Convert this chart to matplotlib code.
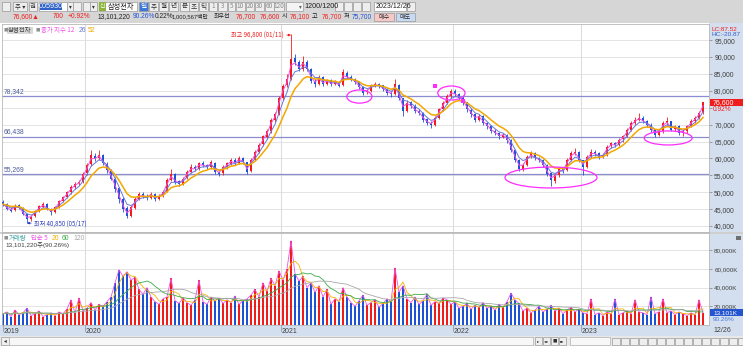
import matplotlib

matplotlib.use("Agg")

import matplotlib.pyplot as plt
import numpy as np
import pandas as pd
from matplotlib.patches import Ellipse, Rectangle

W, H = 743, 346
KR = ["Noto Sans CJK KR", "DejaVu Sans"]
NARROW = ["Liberation Sans Narrow", "Liberation Sans", "DejaVu Sans"]
QUOTE_FONT = ["Liberation Sans Narrow", "Liberation Sans", "Noto Sans CJK KR", "DejaVu Sans"]

STOCK_NAME = "삼성전자"
STOCK_CODE = "005930"
CHART_DATE = "2023/12/26"
SESSIONS = 1200
EMA_SPANS = [12, 26, 52]
VOLUME_MA = [5, 20, 60, 120]

# candles in thousands of won, oldest first
opens = [
    47.0, 46.4, 45.1, 44.6, 46.1, 45.3, 43.6, 42.0, 42.9, 44.4, 45.7,
    46.5, 45.1, 44.0, 45.6, 47.4, 48.6, 50.0, 51.4, 52.6, 53.1, 55.6,
    58.2, 60.8, 60.0, 61.0, 58.4, 56.6, 54.0, 51.2, 48.0, 45.2, 43.0,
    45.4, 48.0, 49.6, 49.0, 48.4, 49.6, 48.1, 49.0, 50.2, 53.6, 55.4,
    53.2, 52.5, 54.2, 56.0, 57.6, 57.0, 58.6, 58.0, 57.4, 58.6, 56.0,
    55.6, 57.4, 58.4, 59.6, 58.6, 60.0, 58.8, 56.2, 59.6, 62.0, 64.2,
    66.4, 68.0, 71.4, 73.2, 78.0, 81.6, 83.6, 89.6, 88.6, 86.4, 88.6,
    86.4, 83.0, 82.0, 84.0, 82.0, 83.2, 82.0, 82.6, 81.6, 85.4, 84.0,
    83.6, 82.6, 81.0, 79.6, 80.0, 81.6, 82.0, 81.6, 80.6, 79.4, 79.0,
    81.8, 77.8, 74.0, 76.6, 75.6, 74.0, 73.4, 71.6, 70.4, 70.0, 72.0,
    74.6, 76.4, 78.6, 80.0, 79.0, 78.0, 76.6, 74.4, 73.0, 71.4, 72.6,
    70.4, 69.6, 68.0, 67.6, 66.4, 67.0, 65.4, 62.6, 59.4, 57.0, 58.0,
    60.6, 61.6, 60.0, 59.6, 58.0, 55.6, 53.4, 55.0, 57.0, 56.6, 59.6,
    61.4, 62.0, 59.4, 57.6, 60.6, 62.0, 61.6, 60.4, 61.0, 63.6, 64.6,
    64.0, 65.6, 66.6, 68.4, 70.6, 71.4, 72.0, 71.0, 70.0, 68.6, 67.0,
    68.0, 70.6, 71.0, 68.6, 69.6, 67.4, 68.0, 69.6, 71.0, 72.0, 73.6,
]
highs = [
    47.6, 46.8, 45.6, 46.5, 46.6, 45.6, 43.9, 43.3, 44.8, 46.2, 47.2,
    46.8, 45.4, 45.9, 47.8, 49.0, 50.4, 52.0, 53.0, 53.6, 56.0, 58.5,
    62.4, 61.5, 62.4, 61.3, 58.8, 57.0, 54.4, 51.6, 48.5, 46.0, 46.2,
    48.6, 50.2, 50.0, 49.4, 50.0, 49.8, 49.5, 50.6, 54.2, 56.8, 55.6,
    53.6, 54.5, 56.5, 58.2, 58.0, 59.0, 59.3, 58.4, 59.5, 58.8, 56.4,
    58.0, 59.0, 60.0, 60.0, 60.6, 60.4, 59.0, 60.0, 62.6, 64.6, 67.0,
    68.6, 72.0, 73.8, 78.6, 82.0, 85.0, 96.8, 91.0, 89.0, 90.2, 89.0,
    86.8, 83.6, 84.6, 84.3, 83.6, 83.5, 83.2, 83.0, 86.4, 85.8, 84.6,
    83.9, 82.8, 81.4, 80.6, 82.0, 82.6, 82.4, 81.8, 80.8, 79.8, 83.4,
    82.0, 78.0, 77.2, 77.0, 76.0, 74.6, 73.6, 72.0, 71.0, 72.6, 75.0,
    77.0, 79.0, 80.6, 80.4, 79.4, 78.4, 76.8, 74.8, 73.4, 73.0, 72.8,
    70.8, 69.8, 68.6, 67.8, 67.6, 67.2, 65.6, 62.8, 59.8, 58.6, 61.0,
    62.2, 61.8, 60.4, 59.8, 58.2, 55.8, 55.6, 57.6, 57.4, 60.0, 62.2,
    63.0, 62.2, 59.6, 61.0, 62.8, 62.4, 61.8, 61.6, 64.0, 65.0, 65.0,
    66.0, 67.0, 69.0, 71.0, 72.2, 73.4, 72.6, 71.4, 70.4, 68.8, 68.6,
    71.0, 72.2, 71.2, 70.0, 69.8, 68.6, 70.0, 71.6, 72.6, 74.0, 76.7,
]
lows = [
    46.0, 44.6, 44.0, 44.3, 45.0, 43.2, 40.85, 41.6, 42.6, 44.1, 45.4,
    44.6, 43.4, 43.8, 45.3, 47.0, 48.2, 49.6, 51.0, 52.0, 52.8, 55.2,
    57.8, 59.2, 59.6, 58.0, 55.8, 53.5, 50.2, 46.8, 44.0, 42.3, 42.6,
    45.0, 47.6, 48.4, 47.8, 48.0, 47.4, 47.8, 48.7, 50.0, 53.2, 52.4,
    51.8, 52.2, 53.8, 55.6, 56.4, 56.6, 57.4, 57.0, 57.0, 55.5, 54.8,
    55.2, 57.0, 58.0, 58.0, 58.3, 58.4, 55.4, 56.0, 59.2, 61.6, 63.8,
    65.8, 67.6, 70.8, 72.8, 77.4, 81.0, 83.2, 87.6, 85.8, 86.0, 85.8,
    82.4, 81.2, 81.6, 81.4, 81.6, 81.4, 81.6, 81.0, 81.4, 83.5, 83.0,
    82.0, 80.4, 78.8, 79.0, 79.6, 81.0, 80.8, 80.0, 78.8, 78.2, 78.8,
    77.4, 72.6, 73.6, 74.8, 73.4, 72.8, 70.8, 69.8, 69.0, 69.6, 71.6,
    74.0, 76.0, 78.0, 78.4, 77.4, 75.8, 73.8, 72.4, 70.8, 71.0, 69.8,
    68.8, 67.4, 66.8, 65.8, 66.0, 64.6, 61.8, 58.8, 56.2, 56.4, 57.8,
    60.0, 59.4, 58.8, 57.4, 54.8, 51.8, 52.8, 54.6, 55.8, 56.2, 59.2,
    61.0, 58.8, 55.0, 57.2, 60.2, 60.8, 59.8, 60.0, 60.8, 63.0, 63.4,
    63.6, 65.0, 66.2, 68.0, 70.0, 71.0, 70.4, 69.4, 67.8, 66.4, 66.6,
    67.6, 70.0, 68.0, 68.0, 66.8, 66.6, 67.6, 69.2, 70.6, 71.6, 73.2,
]
closes = [
    46.5, 45.0, 44.5, 46.0, 45.5, 43.5, 42.0, 42.8, 44.5, 45.8, 46.5,
    45.0, 44.0, 45.5, 47.5, 48.5, 50.0, 51.5, 52.5, 53.0, 55.5, 58.0,
    61.0, 60.0, 61.0, 58.5, 56.5, 54.0, 51.0, 48.0, 45.0, 43.0, 45.5,
    48.0, 49.5, 49.0, 48.5, 49.5, 48.0, 49.0, 50.0, 53.5, 55.5, 53.0,
    52.5, 54.0, 56.0, 57.5, 57.0, 58.5, 58.0, 57.5, 58.8, 56.0, 55.5,
    57.5, 58.5, 59.5, 58.5, 60.0, 59.0, 56.0, 59.5, 62.0, 64.0, 66.5,
    68.0, 71.5, 73.0, 78.0, 81.5, 83.5, 89.5, 88.5, 86.5, 88.5, 86.5,
    83.0, 82.0, 84.0, 82.0, 83.0, 82.0, 82.5, 81.5, 85.5, 84.0, 83.5,
    82.5, 81.0, 79.5, 80.0, 81.5, 82.0, 81.5, 80.5, 79.5, 79.0, 82.0,
    78.0, 74.0, 76.5, 75.5, 74.0, 73.5, 71.5, 70.5, 70.0, 72.0, 74.5,
    76.5, 78.5, 80.0, 79.0, 78.0, 76.5, 74.5, 73.0, 71.5, 72.5, 70.5,
    69.5, 68.0, 67.5, 66.5, 67.0, 65.5, 62.5, 59.5, 57.0, 58.0, 60.5,
    61.5, 60.0, 59.5, 58.0, 55.5, 53.5, 55.0, 57.0, 56.5, 59.5, 61.5,
    62.0, 59.5, 57.5, 60.5, 62.0, 61.5, 60.5, 61.0, 63.5, 64.5, 64.0,
    65.5, 66.5, 68.5, 70.5, 71.5, 72.0, 71.0, 70.0, 68.5, 67.0, 68.0,
    70.5, 71.0, 68.5, 69.5, 67.5, 68.0, 69.5, 71.0, 72.0, 73.5, 76.6,
]
# traded volume, thousands of shares
volumes = [
    12000, 14000, 9000, 16000, 11000, 13000, 18000, 10000, 12000, 15000, 9000,
    11000, 13000, 10000, 14000, 12000, 17000, 27000, 13000, 29000, 15000, 18000,
    24000, 16000, 22000, 20000, 25000, 30000, 45000, 59000, 52000, 57000, 48000,
    51000, 38000, 33000, 40000, 30000, 25000, 22000, 28000, 30000, 50000, 26000,
    23000, 29000, 24000, 21000, 27000, 48000, 25000, 22000, 30000, 26000, 29000,
    23000, 27000, 24000, 31000, 22000, 26000, 28000, 32000, 38000, 30000, 45000,
    36000, 50000, 42000, 58000, 48000, 60000, 90000, 55000, 47000, 52000, 40000,
    45000, 35000, 42000, 30000, 38000, 22000, 28000, 25000, 40000, 30000, 24000,
    20000, 26000, 32000, 21000, 24000, 27000, 19000, 23000, 28000, 25000, 61000,
    35000, 42000, 28000, 24000, 30000, 22000, 26000, 33000, 21000, 25000, 23000,
    29000, 27000, 22000, 25000, 18000, 20000, 23000, 17000, 21000, 19000, 24000,
    18000, 20000, 16000, 22000, 19000, 25000, 34000, 27000, 23000, 15000, 18000,
    13000, 16000, 20000, 14000, 17000, 21000, 15000, 18000, 12000, 16000, 19000,
    14000, 17000, 13000, 12000, 28000, 11000, 13000, 10000, 14000, 12000, 28000,
    11000, 13000, 15000, 12000, 27000, 14000, 13000, 11000, 30000, 12000, 14000,
    28000, 13000, 15000, 11000, 14000, 12000, 10000, 13000, 11000, 27000, 13101.22,
]

YEAR_LABELS = ["2019", "2020", "2021", "2022", "2023"]
YEAR_FIRST_BAR = [0, 21, 70, 113, 145]
LAST_DATE = "12/26"

SUPPORT_LEVELS = [78342, 66438, 55269]
HIGH_DATE = "01/11"
LOW_DATE = "05/17"

# today's quote strip
PREV_CHANGE = 700
CHANGE_PCT = 0.92
VOLUME_RATIO = 90.26
TURNOVER_PCT = 0.22
TRADE_AMOUNT = 1000567
BEST_ASK, BEST_BID = 76700, 76600
DAY_OPEN, DAY_HIGH, DAY_LOW = 76100, 76700, 75700
LC, HC = 87.52, -20.87

RED = "#f01c1c"
BLUE = "#1d52d6"
UI_GRAY = "#d6d6d6"
PANEL_BLUE = "#d3dfee"
GRID = "#e4e4e4"
SUPPORT = "#8c8cd0"
EMA_COLORS = ["#f050e8", "#6a78d8", "#f2a800"]
VMA_COLORS = ["#f050e8", "#f2b400", "#3aaa48", "#a8a8a8"]
MAGENTA = "#ff2cff"

# (bar index, price, width in bars, height in won) of the hand-drawn circles
MARK_CIRCLES = [
    (89.1, 78300, 6.3, 3900),
    (112.1, 79350, 6.8, 4150),
    (137.0, 54350, 23.0, 6200),
    (166.3, 66050, 12.0, 4150),
]
MARK_SQUARES = [(108.0, 81400), (115.1, 77000)]


def fig_rect(fig, x0, y0, x1, y1, fc, ec="none", lw=0.6, z=-1):
    fig.add_artist(
        Rectangle(
            (x0 / W, 1 - y1 / H),
            (x1 - x0) / W,
            (y1 - y0) / H,
            transform=fig.transFigure,
            facecolor=fc,
            edgecolor=ec,
            linewidth=lw,
            zorder=z,
        )
    )


def fig_text(fig, x, y, s, size=5.0, color="#202020", ha="left", family=KR, **kw):
    fig.text(x / W, 1 - y / H, s, fontsize=size, color=color, ha=ha,
             va="center", family=family, zorder=6, **kw)


def button(fig, x0, x1, y0, y1, text="", fc="#eeeeee", color="#303030", size=5.0):
    fig_rect(fig, x0, y0, x1, y1, fc, ec="#9a9a9a", lw=0.5, z=2)
    if text:
        fig_text(fig, (x0 + x1) / 2, (y0 + y1) / 2, text, size=size, color=color, ha="center")


def draw_toolbar(fig):
    # first row: code, name, period buttons, count and date
    button(fig, 2, 10, 2, 11, "")
    button(fig, 13, 27, 2, 11, "주 ▾", size=4.6)
    button(fig, 29, 37, 2, 11, "권", size=4.6)
    fig_rect(fig, 39, 2, 67, 11, "white", ec="#9a9a9a", lw=0.5, z=2)
    fig_rect(fig, 40, 3.5, 62, 9.5, "#2f63c8", z=3)
    fig_text(fig, 51, 6.5, STOCK_CODE, size=5.2, color="white", ha="center", family=NARROW)
    button(fig, 67, 73, 2, 11, "▾", size=4)
    button(fig, 73, 81, 2, 11, "")
    button(fig, 83, 90, 2, 11, "")
    button(fig, 90, 97, 2, 11, "▾", size=4)
    fig_rect(fig, 99, 2, 137, 11, "white", ec="#9a9a9a", lw=0.5, z=2)
    fig_rect(fig, 99, 2, 106, 11, "#8cb43c", z=3)
    fig_text(fig, 102.5, 6.5, "신", size=4.4, color="white", ha="center")
    fig_text(fig, 107.5, 6.5, STOCK_NAME, size=5.2)
    button(fig, 139, 148, 2, 11, "일", fc="#3d78d8", color="white", size=4.8)
    for x0, t in zip([149, 159, 169, 180, 189, 199], ["주", "월", "년", "분", "초", "틱"]):
        button(fig, x0, x0 + 9, 2, 11, t, size=4.8)
    for x0, x1, t in [(209, 217, "1"), (218, 227, "3"), (228, 235, "5"), (236, 245, "10"),
                      (246, 254, "20"), (255, 264, "30"), (265, 274, "60"), (274, 284, "120")]:
        button(fig, x0, x1, 2, 11, t, color="#8a8a8a", size=4.6)
    fig_rect(fig, 286, 2, 303, 11, "#f4f4f4", ec="#9a9a9a", lw=0.5, z=2)
    fig_text(fig, 300, 6.5, "▾", size=4, color="#606060", ha="center")
    fig_text(fig, 304.5, 6.5, f"{SESSIONS}/{SESSIONS}", size=5.2, family=NARROW)
    for x0 in [335, 344, 353, 362]:
        button(fig, x0, x0 + 8, 2, 11, "")
    fig_rect(fig, 374, 2, 406, 11, "white", ec="#9a9a9a", lw=0.5, z=2)
    fig_text(fig, 375.5, 6.5, CHART_DATE, size=5.0, family=NARROW)
    button(fig, 407, 415, 2, 11, "")

    # second row: today's quote
    last = closes[-1] * 1000
    y = 16.5
    qf = QUOTE_FONT
    qs = 4.8
    fig_text(fig, 13, y, f"{last:,.0f}▲", size=qs, color=RED, family=qf)
    fig_text(fig, 53, y, f"{PREV_CHANGE}", size=qs, color=RED, family=qf)
    fig_text(fig, 68, y, f"+{CHANGE_PCT:.2f}%", size=qs, color=RED, family=qf)
    fig_text(fig, 98, y, f"{volumes[-1] * 1000:,.0f}", size=qs, family=qf)
    fig_text(fig, 133, y, f"{VOLUME_RATIO:.2f}%", size=qs, color=BLUE, family=qf)
    fig_text(fig, 155, y, f"{TURNOVER_PCT:.2f}%", size=qs, family=qf)
    fig_text(fig, 172, y, f"{TRADE_AMOUNT:,}백만", size=4.2, family=qf)
    fig_text(fig, 214, y, "최우선", size=4.3)
    fig_text(fig, 236, y, f"{BEST_ASK:,}", size=qs, color=RED, family=qf)
    fig_text(fig, 260, y, f"{BEST_BID:,}", size=qs, color=RED, family=qf)
    fig_text(fig, 282, y, "시", size=4.5)
    fig_text(fig, 290, y, f"{DAY_OPEN:,}", size=qs, color=RED, family=qf)
    fig_text(fig, 312, y, "고", size=4.5)
    fig_text(fig, 322, y, f"{DAY_HIGH:,}", size=qs, color=RED, family=qf)
    fig_text(fig, 344, y, "저", size=4.5)
    fig_text(fig, 352, y, f"{DAY_LOW:,}", size=qs, color=BLUE, family=qf)
    button(fig, 374, 394, 12.5, 20.5, "매수", fc="#f6c8c8", size=4.4)
    button(fig, 396, 415, 12.5, 20.5, "매도", fc="#c6daf4", size=4.4)


def draw_bottom_bar(fig):
    fig_rect(fig, 0, 336, W, H, "#e8e8e8", z=-1)
    button(fig, 1, 9, 337, 345, "◂", size=4)
    fig_rect(fig, 9, 337, 533, 345, "#f7f7f7", ec="#b0b0b0", lw=0.5, z=2)
    for x0, t in zip([535, 543, 551, 559], ["▸", "◂◂", "■", "▸▸"]):
        button(fig, x0, x0 + 7, 337, 345, t, size=3.2)
    fig_rect(fig, 570, 337, 610, 345, "#f7f7f7", ec="#b0b0b0", lw=0.5, z=2)
    for x0 in range(612, 743, 9):
        button(fig, x0, x0 + 7.5, 337.5, 344.5, "")


def candle_colors():
    return [RED if c >= o else BLUE for o, c in zip(opens, closes)]


def draw_price_pane(fig):
    ax = fig.add_axes([2 / W, 1 - 232 / H, 707 / W, 208 / H])
    n = len(closes)
    idx = np.arange(n)
    o = np.array(opens) * 1000
    h = np.array(highs) * 1000
    lo = np.array(lows) * 1000
    c = np.array(closes) * 1000
    colors = candle_colors()

    ax.set_xlim(-0.25, n + 0.5)
    ax.set_ylim(38225, 99772)
    ax.set_facecolor("white")

    ticks = np.arange(40000, 96000, 5000)
    for t in ticks:
        ax.axhline(t, color=GRID, lw=0.7, zorder=0)
    for b in YEAR_FIRST_BAR[1:]:
        ax.axvline(b - 0.5, color="#dddddd", lw=0.8, zorder=0)
    for level in SUPPORT_LEVELS:
        ax.axhline(level, color=SUPPORT, lw=0.9, zorder=1)
        ax.text(0.2, level + 400, f"{level:,}", fontsize=4.9, color="#4a5a9a",
                family=NARROW, va="bottom")

    ax.vlines(idx, lo, h, colors=colors, lw=0.6, zorder=2)
    body = np.maximum(np.abs(c - o), 120)
    ax.bar(idx, body, width=0.62, bottom=np.minimum(o, c), color=colors,
           linewidth=0, zorder=3)

    # each candle covers several sessions, so the session spans are rescaled
    per_bar = SESSIONS / n
    close_series = pd.Series(c)
    for span, col, lw in zip(EMA_SPANS, EMA_COLORS, [0.7, 0.7, 1.1]):
        ema = close_series.ewm(span=max(span / per_bar, 1.0), adjust=False).mean()
        ax.plot(idx, ema, color=col, lw=lw, zorder=4)

    for (xc, yc, wd, ht) in MARK_CIRCLES:
        ax.add_patch(Ellipse((xc, yc), wd, ht, fill=False, edgecolor=MAGENTA, lw=0.9, zorder=5))
    for (xs, ys) in MARK_SQUARES:
        ax.plot(xs, ys, marker="s", ms=2.2, color=MAGENTA, mew=0, zorder=5)

    i_hi = int(np.argmax(h))
    i_lo = int(np.argmin(lo))
    ax.annotate(f"최고 {h[i_hi]:,.0f} ({HIGH_DATE})", xy=(i_hi, h[i_hi] - 300),
                xytext=(-5, 0), textcoords="offset points", ha="right", va="center",
                fontsize=4.4, color=RED, family=KR,
                arrowprops=dict(arrowstyle="-|>", color=RED, lw=0.6, mutation_scale=3,
                                shrinkA=0, shrinkB=0), zorder=6)
    ax.annotate(f"최저 {lo[i_lo]:,.0f} ({LOW_DATE})", xy=(i_lo, lo[i_lo]),
                xytext=(5, 0), textcoords="offset points", ha="left", va="center",
                fontsize=4.4, color="#2a3cc0", family=KR,
                arrowprops=dict(arrowstyle="-|>", color="#2a3cc0", lw=0.6, mutation_scale=3,
                                shrinkA=0, shrinkB=0), zorder=6)

    # the last-price tag covers the nearest scale label
    ax.yaxis.tick_right()
    tick_labels = ["" if abs(t - c[-1]) < 2500 else f"{t:,}" for t in ticks]
    ax.set_yticks(ticks, labels=tick_labels, fontsize=4.9, family=NARROW, color="#404040")
    ax.tick_params(axis="y", length=2.5, width=0.5, color="#808080", pad=1.2)
    ax.set_xticks([])
    for side in ax.spines.values():
        side.set_color("#b8b8b8")
        side.set_linewidth(0.6)

    # legend row
    fig_text(fig, 4, 30, "■", size=3.2, color="#909090")
    fig_rect(fig, 7, 26.5, 33, 33.5, "#d8d8d8", z=2)
    fig_text(fig, 8, 30, STOCK_NAME, size=4.6, color="#404040")
    fig_text(fig, 36, 30, "■", size=3.2, color="#909090")
    fig_text(fig, 41, 30, f"종가 지수 {EMA_SPANS[0]}", size=4.6, color=EMA_COLORS[0])
    fig_text(fig, 79, 30, f"{EMA_SPANS[1]}", size=4.9, color=EMA_COLORS[1], family=NARROW)
    fig_text(fig, 88, 30, f"{EMA_SPANS[2]}", size=4.9, color=EMA_COLORS[2], family=NARROW)

    # last price tag on the axis panel
    tag_y = 226 - (c[-1] - 40000) / 5000 * 16.9
    fig_rect(fig, 710, tag_y - 3.6, 743, tag_y + 3.6, "#ee1c1c", z=5)
    fig_text(fig, 713, tag_y, f"{c[-1]:,.0f}", size=5.0, color="white", family=NARROW)
    fig_text(fig, 713, tag_y + 7, f"{CHANGE_PCT:.2f}%", size=4.8, color=RED, family=NARROW)
    fig_text(fig, 712, 29.5, f"LC:{LC:.2f}", size=4.6, color=RED, family=NARROW)
    fig_text(fig, 712, 35, f"HC:{HC:.2f}", size=4.6, color="#3060d0", family=NARROW)
    return ax


def draw_volume_pane(fig):
    ax = fig.add_axes([2 / W, 1 - 325 / H, 707 / W, 92 / H])
    n = len(volumes)
    idx = np.arange(n)
    v = np.array(volumes)
    ax.set_xlim(-0.25, n + 0.5)
    ax.set_ylim(0, 98400)
    ax.set_facecolor("white")

    ticks = [20000, 40000, 60000, 80000]
    for t in ticks:
        ax.axhline(t, color=GRID, lw=0.7, zorder=0)
    for b in YEAR_FIRST_BAR[1:]:
        ax.axvline(b - 0.5, color="#dddddd", lw=0.8, zorder=0)

    ax.bar(idx, v, width=0.7, color=candle_colors(), linewidth=0, zorder=2)

    per_bar = SESSIONS / n
    vs = pd.Series(v)
    for window, col in zip(VOLUME_MA, VMA_COLORS):
        w = max(1, int(round(window / per_bar)))
        ax.plot(idx, vs.rolling(w, min_periods=1).mean(), color=col, lw=0.6, zorder=3)

    ax.yaxis.tick_right()
    ax.set_yticks(ticks, labels=[f"{t:,}K" for t in ticks], fontsize=4.5, family=NARROW,
                  color="#404040")
    ax.tick_params(axis="y", length=2.5, width=0.5, color="#808080", pad=1.2)
    ax.set_xticks([])
    for side in ax.spines.values():
        side.set_color("#b8b8b8")
        side.set_linewidth(0.6)

    fig_text(fig, 4, 238, "■", size=3.2, color="#909090")
    fig_text(fig, 9, 238, "거래량", size=4.6, color="#3aa0a0")
    fig_text(fig, 31, 238, f"단순 {VOLUME_MA[0]}", size=4.6, color=VMA_COLORS[0])
    for x, win, col in zip([52, 62, 73], VOLUME_MA[1:], VMA_COLORS[1:]):
        fig_text(fig, x, 238, f"{win}", size=4.9, color=col, family=NARROW)
    fig_text(fig, 5, 244.5, f"{v[-1] * 1000:,.0f}주({VOLUME_RATIO:.2f}%)", size=4.6,
             color="#404040", family=QUOTE_FONT)

    tag_y = 325 - v[-1] / 20000 * 18.7
    fig_rect(fig, 710, tag_y - 3.4, 743, tag_y + 3.4, "#2454d0", z=5)
    fig_text(fig, 713, tag_y, f"{v[-1]:,.0f}K", size=4.6, color="white", family=NARROW)
    fig_text(fig, 713, tag_y + 6.8, f"{VOLUME_RATIO:.2f}%", size=4.6, color="#4a78d8",
             family=NARROW)
    fig_rect(fig, 736, 236, 741, 240, "#707070", z=5)
    return ax


def draw_time_axis(fig):
    fig_rect(fig, 0, 325, W, 336, PANEL_BLUE, z=-1)
    ax = fig.add_axes([2 / W, 1 - 336 / H, 707 / W, 11 / H])
    ax.set_xlim(-0.25, len(closes) + 0.5)
    ax.set_ylim(0, 1)
    ax.axis("off")
    for b, lab in zip(YEAR_FIRST_BAR, YEAR_LABELS):
        x = max(b - 0.5, -0.1)
        ax.plot([x, x], [0.45, 1.0], color="#8090a8", lw=0.5)
        ax.text(x + 0.25, 0.45, lab, fontsize=5.0, color="#404040", family=NARROW,
                va="center")
    fig_text(fig, 713, 330.5, LAST_DATE, size=5.0, color="#404040", family=NARROW)


def build_figure():
    fig = plt.figure(figsize=(W / 100, H / 100), dpi=100, facecolor=UI_GRAY)
    fig_rect(fig, 0, 23, W, 336, "white", z=-2)
    fig_rect(fig, 709, 23, W, 336, PANEL_BLUE, z=-1)
    fig_rect(fig, 0, 232, W, 234, "#cfcfcf", z=-1)
    draw_toolbar(fig)
    draw_price_pane(fig)
    draw_volume_pane(fig)
    draw_time_axis(fig)
    draw_bottom_bar(fig)
    return fig


def main():
    fig = build_figure()
    fig.savefig("out.png", dpi=100, facecolor=fig.get_facecolor())
    plt.close(fig)


if __name__ == "__main__":
    main()
